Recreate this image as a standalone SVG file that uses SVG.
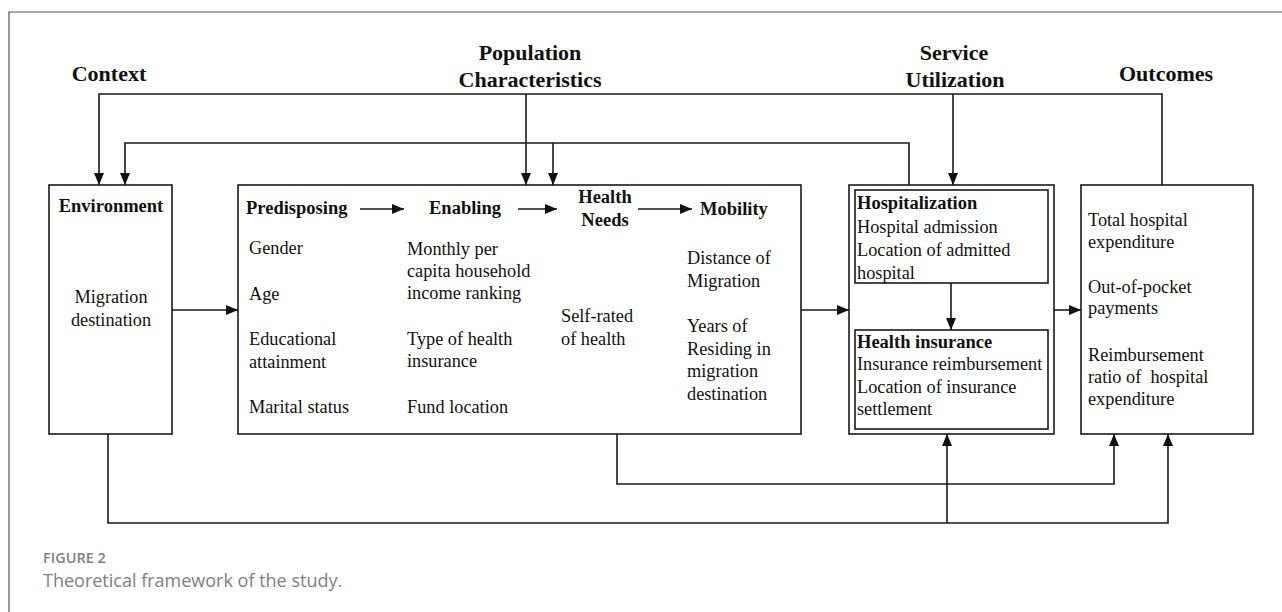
<svg xmlns="http://www.w3.org/2000/svg" width="1282" height="612" viewBox="0 0 1282 612">
<style>
.box{fill:#fff;stroke:#1a1a1a;stroke-width:1.6}
.ln{fill:none;stroke:#1a1a1a;stroke-width:1.6}
.hd{font-family:"Liberation Serif","Times New Roman",serif;font-weight:bold;font-size:22px;fill:#111}
.bt{font-family:"Liberation Serif","Times New Roman",serif;font-weight:bold;font-size:18.5px;fill:#111}
.tx{font-family:"Liberation Serif","Times New Roman",serif;font-size:18.3px;fill:#111}
.c{text-anchor:middle}
.cap1{font-family:"Open Sans","Liberation Sans",sans-serif;font-weight:600;font-size:14.5px;fill:#808080}
.cap2{font-family:"Open Sans","Liberation Sans",sans-serif;font-size:18px;fill:#808080}
</style>
<defs>
<marker id="ah" viewBox="0 0 12 10" refX="12" refY="5" markerWidth="12" markerHeight="10" markerUnits="userSpaceOnUse" orient="auto">
<path d="M0,0 L12,5 L0,10 z" fill="#111"/>
</marker>
</defs>
<rect width="1282" height="612" fill="#fff"/>
<path d="M9,612 V12 H1282" fill="none" stroke="#555" stroke-width="1.2"/>

<g id="headers">
<text class="hd c" x="109" y="81">Context</text>
<text class="hd c" x="530" y="60">Population</text>
<text class="hd c" x="530" y="87">Characteristics</text>
<text class="hd c" x="954" y="60">Service</text>
<text class="hd c" x="955" y="87">Utilization</text>
<text class="hd c" x="1166" y="81">Outcomes</text>
</g>

<g id="environment">
<rect class="box" x="49" y="185" width="123" height="249"/>
<text class="bt c" x="111" y="212">Environment</text>
<text class="tx c" x="111" y="303">Migration</text>
<text class="tx c" x="111" y="326">destination</text>
</g>

<g id="population">
<rect class="box" x="238" y="185" width="563" height="249"/>
<text class="bt" x="246" y="214">Predisposing</text>
<text class="bt" x="429" y="214">Enabling</text>
<text class="bt c" x="605" y="203">Health</text>
<text class="bt c" x="605" y="226">Needs</text>
<text class="bt" x="700" y="215">Mobility</text>
<text class="tx" x="249" y="254">Gender</text>
<text class="tx" x="249" y="300">Age</text>
<text class="tx" x="249" y="345">Educational</text>
<text class="tx" x="249" y="368">attainment</text>
<text class="tx" x="249" y="413">Marital status</text>
<text class="tx" x="407" y="255">Monthly per</text>
<text class="tx" x="407" y="277">capita household</text>
<text class="tx" x="407" y="299">income ranking</text>
<text class="tx" x="407" y="345">Type of health</text>
<text class="tx" x="407" y="367">insurance</text>
<text class="tx" x="407" y="413">Fund location</text>
<text class="tx" x="561" y="322">Self-rated</text>
<text class="tx" x="561" y="345">of health</text>
<text class="tx" x="687" y="264">Distance of</text>
<text class="tx" x="687" y="287">Migration</text>
<text class="tx" x="687" y="332">Years of</text>
<text class="tx" x="687" y="355">Residing in</text>
<text class="tx" x="687" y="377">migration</text>
<text class="tx" x="687" y="400">destination</text>
</g>

<g id="service">
<rect class="box" x="849" y="185" width="205" height="249"/>
<g id="hospitalization">
<rect class="box" x="855" y="190" width="193" height="93"/>
<text class="bt" x="857" y="209">Hospitalization</text>
<text class="tx" x="857" y="233">Hospital admission</text>
<text class="tx" x="857" y="256">Location of admitted</text>
<text class="tx" x="857" y="279">hospital</text>
</g>
<g id="health-insurance">
<rect class="box" x="855" y="330" width="193" height="99"/>
<text class="bt" x="857" y="348">Health insurance</text>
<text class="tx" x="857" y="370">Insurance reimbursement</text>
<text class="tx" x="857" y="393">Location of insurance</text>
<text class="tx" x="857" y="415">settlement</text>
</g>
</g>

<g id="outcomes">
<rect class="box" x="1081" y="185" width="172" height="249"/>
<text class="tx" x="1088" y="226">Total hospital</text>
<text class="tx" x="1088" y="248">expenditure</text>
<text class="tx" x="1088" y="293">Out-of-pocket</text>
<text class="tx" x="1088" y="314">payments</text>
<text class="tx" x="1088" y="361">Reimbursement</text>
<text class="tx" x="1088" y="383" xml:space="preserve">ratio of  hospital</text>
<text class="tx" x="1088" y="405">expenditure</text>
</g>

<g id="connectors">
<path class="ln" d="M1162,185 V94 H99 V185" marker-end="url(#ah)"/>
<path class="ln" d="M526,94 V185" marker-end="url(#ah)"/>
<path class="ln" d="M909,185 V143 H125 V185" marker-end="url(#ah)"/>
<path class="ln" d="M553,143 V185" marker-end="url(#ah)"/>
<path class="ln" d="M953,94 V185" marker-end="url(#ah)"/>
<path class="ln" d="M172,310 H238" marker-end="url(#ah)"/>
<path class="ln" d="M801,310 H849" marker-end="url(#ah)"/>
<path class="ln" d="M1054,310 H1081" marker-end="url(#ah)"/>
<path class="ln" d="M360,209 H404" marker-end="url(#ah)"/>
<path class="ln" d="M518,209 H557" marker-end="url(#ah)"/>
<path class="ln" d="M638,209 H692" marker-end="url(#ah)"/>
<path class="ln" d="M951,283 V330" marker-end="url(#ah)"/>
<path class="ln" d="M617,434 V484 H1114 V434" marker-end="url(#ah)"/>
<path class="ln" d="M108,434 V523 H1168 V434" marker-end="url(#ah)"/>
<path class="ln" d="M947,523 V434" marker-end="url(#ah)"/>
</g>

<g id="caption">
<text class="cap1" x="43" y="563">FIGURE 2</text>
<text class="cap2" x="43" y="587">Theoretical framework of the study.</text>
</g>
</svg>
